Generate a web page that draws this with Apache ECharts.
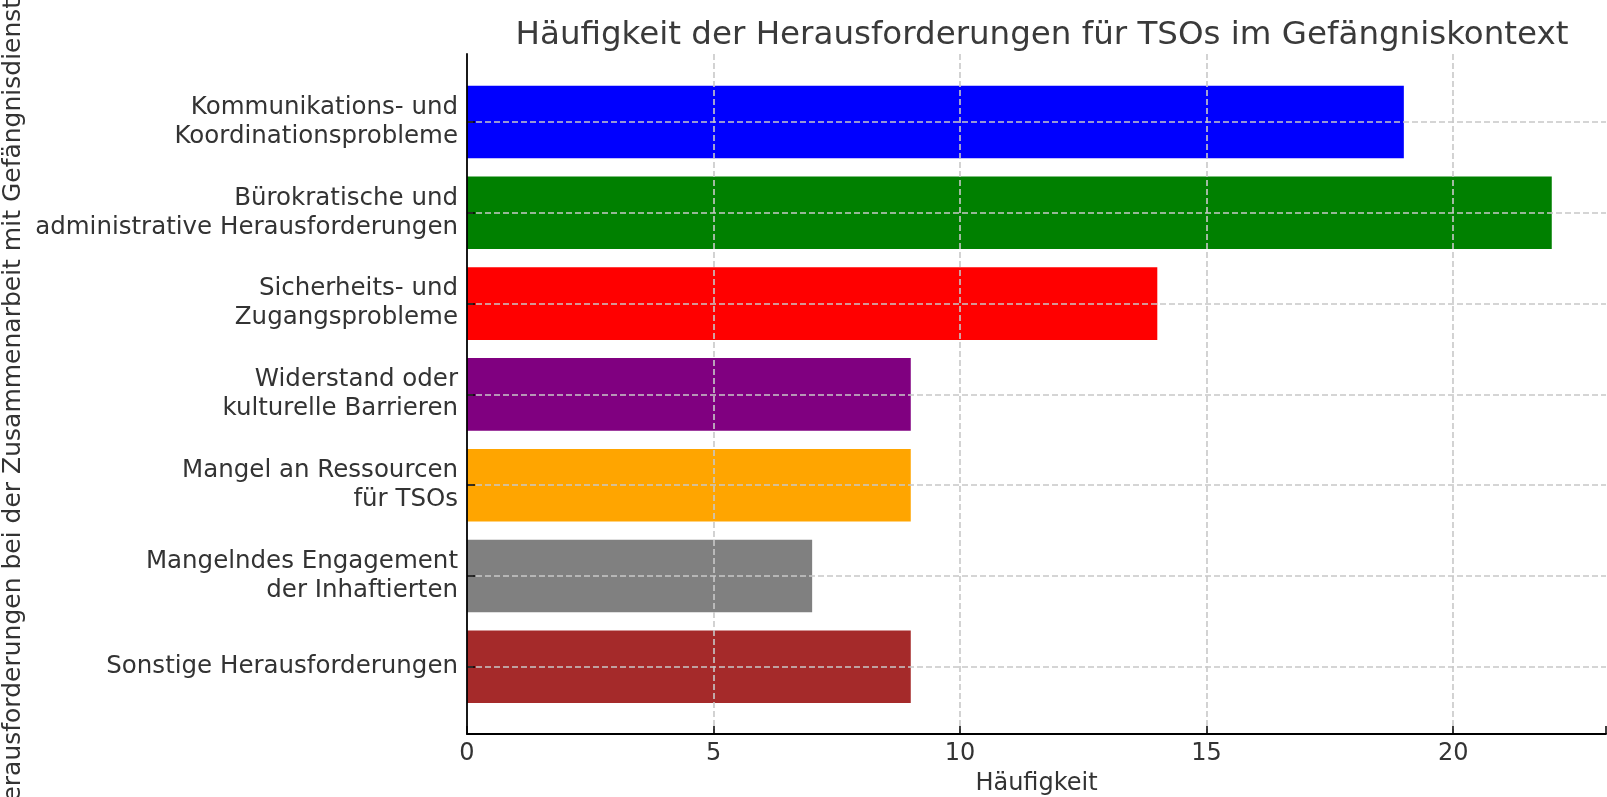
<!DOCTYPE html>
<html>
<head>
<meta charset="utf-8">
<script src="https://cdn.jsdelivr.net/npm/echarts@6/dist/echarts.min.js"></script>
<style>
html,body{margin:0;padding:0;background:#fff;}
#chart{width:1607px;height:797px;}
</style>
</head>
<body>
<div id="chart"></div>
<script>
const categories = [
  'Kommunikations- und\nKoordinationsprobleme',
  'Bürokratische und\nadministrative Herausforderungen',
  'Sicherheits- und\nZugangsprobleme',
  'Widerstand oder\nkulturelle Barrieren',
  'Mangel an Ressourcen\nfür TSOs',
  'Mangelndes Engagement\nder Inhaftierten',
  'Sonstige Herausforderungen'
];
const values = [19, 22, 14, 9, 9, 7, 9];
const barColors = ['#0000ff', '#008000', '#ff0000', '#800080', '#ffa500', '#808080', '#a52a2a'];
const xTicks = [0, 5, 10, 15, 20];
const titleText = 'Häufigkeit der Herausforderungen für TSOs im Gefängniskontext';
const xName = 'Häufigkeit';
const yName = 'Herausforderungen bei der Zusammenarbeit mit Gefängnisdiensten';

const FONT = 'DejaVu Sans';
const TXT = '#333333';
const xMax = 23.1;
const L = 467, R = 1;
const gridDash = { color: '#c8c8c8', width: 1.6, type: [6, 3] };

const chart = echarts.init(document.getElementById('chart'), null, { renderer: 'canvas' });
chart.setOption({
  animation: false,
  backgroundColor: '#ffffff',
  title: {
    text: titleText,
    left: 1037, top: 14, textAlign: 'center',
    textStyle: { fontFamily: FONT, fontSize: 32.5, fontWeight: 'normal', color: '#3a3a3a' }
  },
  grid: [
    { left: L, right: R, top: 54, bottom: 63, containLabel: false, outerBoundsMode: 'none' },
    { left: L, right: R, top: 76.6, bottom: 84.8, containLabel: false, outerBoundsMode: 'none' },
    { left: L, right: R, top: 122, bottom: 130.2, containLabel: false, outerBoundsMode: 'none' }
  ],
  xAxis: [
    {
      gridIndex: 0, type: 'value', min: 0, max: xMax, interval: 5, z: 5,
      axisLine: { show: true, lineStyle: { color: '#000', width: 1.8 } },
      axisTick: { show: true, inside: true, length: 8, lineStyle: { color: '#000', width: 1.5 } },
      axisLabel: {
        show: true, margin: 8, fontFamily: FONT, fontSize: 24, color: TXT,
        customValues: xTicks
      },
      splitLine: { show: true, showMinLine: false, showMaxLine: false, lineStyle: gridDash },
      name: xName, nameLocation: 'middle', nameGap: 38,
      nameTextStyle: { fontFamily: FONT, fontSize: 24, color: TXT }
    },
    { gridIndex: 1, type: 'value', min: 0, max: xMax, show: false, splitLine: { show: false } },
    { gridIndex: 2, type: 'value', min: 0, max: xMax, show: false, splitLine: { show: false } }
  ],
  yAxis: [
    {
      gridIndex: 0, type: 'value', min: 0, max: 1, z: 5,
      axisLine: { show: true, onZero: false, lineStyle: { color: '#000', width: 1.8 } },
      axisTick: { show: false }, axisLabel: { show: false }, splitLine: { show: false },
      name: yName, nameLocation: 'middle', nameGap: 441, nameRotate: 90,
      nameTextStyle: { fontFamily: FONT, fontSize: 25, color: TXT }
    },
    {
      gridIndex: 1, type: 'category', data: categories, inverse: true,
      axisLine: { show: false }, axisTick: { show: false }, axisLabel: { show: false },
      splitLine: { show: false }
    },
    {
      gridIndex: 2, type: 'category', data: categories, inverse: true, boundaryGap: false, z: 5,
      axisLine: { show: false },
      axisTick: { show: true, inside: true, length: 8, lineStyle: { color: '#000', width: 1.5 } },
      axisLabel: {
        show: true, margin: 9, fontFamily: FONT, fontSize: 24.5, color: TXT,
        lineHeight: 29, align: 'right'
      },
      splitLine: { show: true, lineStyle: gridDash }
    }
  ],
  series: [
    {
      type: 'bar', xAxisIndex: 1, yAxisIndex: 1,
      barWidth: '80%', z: 2,
      data: values.map((v, i) => ({ value: v, itemStyle: { color: barColors[i] } }))
    }
  ]
});
</script>
</body>
</html>
